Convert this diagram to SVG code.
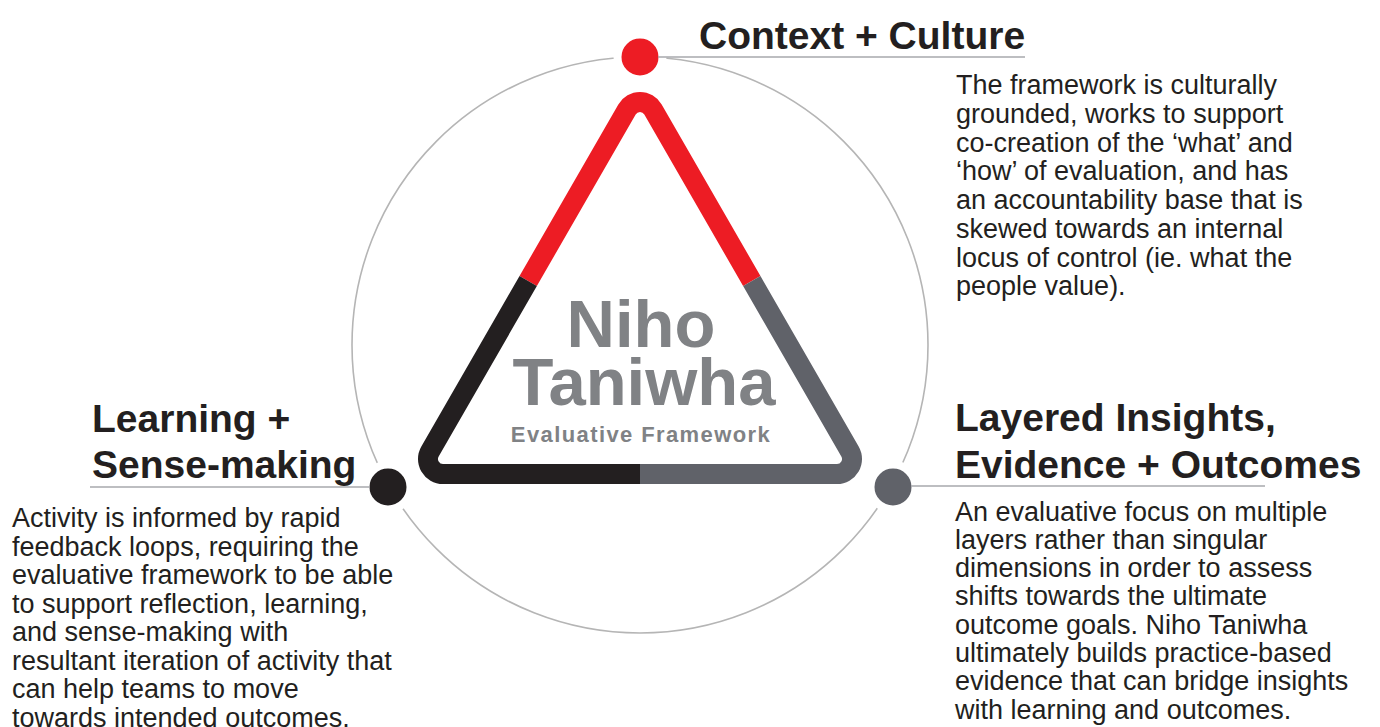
<svg xmlns="http://www.w3.org/2000/svg" width="1380" height="727" viewBox="0 0 1380 727">
<style>
.head{font-family:"Liberation Sans",Arial,sans-serif;font-weight:bold;font-size:39px;fill:#231f20}
.body{font-family:"Liberation Sans",Arial,sans-serif;font-size:27px;fill:#231f20}
.ctr{font-family:"Liberation Sans",Arial,sans-serif;font-weight:bold;fill:#808285;text-anchor:middle}
.rule{stroke:#a7a9ac;stroke-width:1.5;fill:none}
.dot{stroke:#ffffff;stroke-width:8}
.tri{fill:none;stroke-width:20;stroke-linecap:butt;stroke-linejoin:round}
</style>
<rect width="1380" height="727" fill="#ffffff"/>
<g id="connectors">
<circle cx="640" cy="345" r="288" fill="none" stroke="#b5b5b5" stroke-width="1.6"/>
</g>
<g id="center">
<path class="tri" stroke="#ed1c24" d="M528.2,281 L627,109.5 A15,15 0 0 1 653,109.5 L751.8,281"/>
<path class="tri" stroke="#231f20" d="M528.2,281 L430,451.5 A15,15 0 0 0 443,474 L640,474"/>
<path class="tri" stroke="#606269" d="M640,474 L837,474 A15,15 0 0 0 850,451.5 L751.8,281"/>
<text class="ctr" x="641" y="347" font-size="67">Niho</text>
<text class="ctr" x="644" y="405" font-size="67">Taniwha</text>
<text class="ctr" x="641" y="442" font-size="22" letter-spacing="1.4">Evaluative Framework</text>
</g>
<g id="context-culture">
<circle class="dot" cx="640" cy="57" r="22.5" fill="#ed1c24"/>
<line class="rule" x1="658" y1="57" x2="1025" y2="57"/>
<text class="head" x="699" y="49">Context + Culture</text>
<text class="body" x="956" y="94.3">
<tspan x="956">The framework is culturally</tspan>
<tspan x="956" dy="28.7">grounded, works to support</tspan>
<tspan x="956" dy="28.7">co-creation of the ‘what’ and</tspan>
<tspan x="956" dy="28.7">‘how’ of evaluation, and has</tspan>
<tspan x="956" dy="28.7">an accountability base that is</tspan>
<tspan x="956" dy="28.7">skewed towards an internal</tspan>
<tspan x="956" dy="28.7">locus of control (ie. what the</tspan>
<tspan x="956" dy="28.7">people value).</tspan>
</text>
</g>
<g id="learning-sense-making">
<circle class="dot" cx="388" cy="487" r="22.5" fill="#231f20"/>
<line class="rule" x1="90" y1="487" x2="370" y2="487"/>
<text class="head" x="92" y="432">Learning +</text>
<text class="head" x="92" y="478">Sense-making</text>
<text class="body" x="12" y="527">
<tspan x="12">Activity is informed by rapid</tspan>
<tspan x="12" dy="28.5">feedback loops, requiring the</tspan>
<tspan x="12" dy="28.5">evaluative framework to be able</tspan>
<tspan x="12" dy="28.5">to support reflection, learning,</tspan>
<tspan x="12" dy="28.5">and sense-making with</tspan>
<tspan x="12" dy="28.5">resultant iteration of activity that</tspan>
<tspan x="12" dy="28.5">can help teams to move</tspan>
<tspan x="12" dy="28.5">towards intended outcomes.</tspan>
</text>
</g>
<g id="layered-insights">
<circle class="dot" cx="893" cy="487" r="22.5" fill="#606269"/>
<line class="rule" x1="911" y1="486" x2="1265" y2="486"/>
<text class="head" x="955" y="431">Layered Insights,</text>
<text class="head" x="955" y="478">Evidence + Outcomes</text>
<text class="body" x="955" y="520.5">
<tspan x="955">An evaluative focus on multiple</tspan>
<tspan x="955" dy="28.3">layers rather than singular</tspan>
<tspan x="955" dy="28.3">dimensions in order to assess</tspan>
<tspan x="955" dy="28.3">shifts towards the ultimate</tspan>
<tspan x="955" dy="28.3">outcome goals. Niho Taniwha</tspan>
<tspan x="955" dy="28.3">ultimately builds practice-based</tspan>
<tspan x="955" dy="28.3">evidence that can bridge insights</tspan>
<tspan x="955" dy="28.3">with learning and outcomes.</tspan>
</text>
</g>
</svg>
